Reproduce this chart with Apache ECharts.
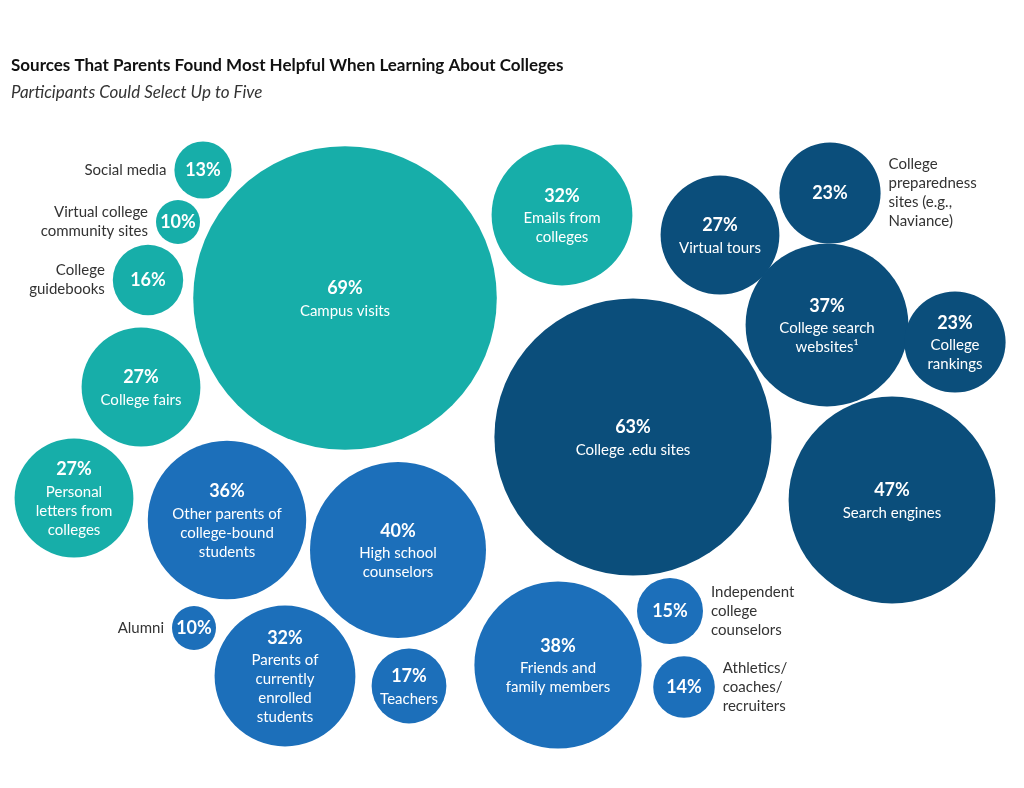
<!DOCTYPE html>
<html><head><meta charset="utf-8">
<script src="https://cdn.jsdelivr.net/npm/echarts@6/dist/echarts.min.js"></script>
<style>html,body{margin:0;padding:0;background:#fff}#chart{width:1024px;height:788px}</style>
</head><body><div id="chart"></div>
<script>
// source names (inside text), outside labels, values, group
const names = ["", "", "", "College fairs", "Personal\nletters from\ncolleges", "Campus visits", "Emails from\ncolleges",
  "Virtual tours", "", "College search\nwebsites¹", "College\nrankings", "College .edu sites", "Search engines",
  "Other parents of\ncollege-bound\nstudents", "High school\ncounselors", "", "Parents of\ncurrently\nenrolled\nstudents",
  "Teachers", "Friends and\nfamily members", "", ""];
const outside = ["Social media", "Virtual college\ncommunity sites", "College\nguidebooks", "", "", "", "",
  "", "College\npreparedness\nsites (e.g.,\nNaviance)", "", "", "", "",
  "", "", "Alumni", "", "", "", "Independent\ncollege\ncounselors", "Athletics/\ncoaches/\nrecruiters"];
const outsideSide = ["left", "left", "left", "", "", "", "", "", "right", "", "", "", "", "", "", "left", "", "", "", "right", "right"];
const values = [13, 10, 16, 27, 27, 69, 32, 27, 23, 37, 23, 63, 47, 36, 40, 10, 32, 17, 38, 15, 14];
const groups = [0, 0, 0, 0, 0, 0, 0, 1, 1, 1, 1, 1, 1, 2, 2, 2, 2, 2, 2, 2, 2];
// layout of the packed bubbles (page coordinates)
const layoutX = [203, 178, 148, 141, 74, 345, 562, 720, 830, 827, 955, 633, 892, 227, 398, 194, 285, 409, 558, 670, 684];
const layoutY = [170, 222, 280, 387, 498, 298, 215, 235, 193, 325, 342, 437, 500, 520, 550, 628, 676, 686, 665, 611, 687];
const colors = ["#17aea9", "#0b4e7b", "#1c6fba"];

const font = "Lato, 'Open Sans', sans-serif";
const scale = v => v * 4.4;
const bubbles = values.map((v, i) => ({
  value: [layoutX[i], layoutY[i], v],
  itemStyle: { color: colors[groups[i]], opacity: 1 },
  label: {
    formatter: names[i] ? "{p|" + v + "%}\n{n|" + names[i].split("\n").join("}\n{n|") + "}" : "{p|" + v + "%}"
  }
}));
const outer = values.map((v, i) => ({
  value: [layoutX[i], layoutY[i], v],
  label: { show: !!outside[i], position: outsideSide[i] || "left", formatter: outside[i], distance: 8,
    align: outsideSide[i] === "right" ? "left" : "right" }
}));

const chart = echarts.init(document.getElementById("chart"));
chart.setOption({
  animation: false,
  title: {
    text: "Sources That Parents Found Most Helpful When Learning About Colleges",
    subtext: "Participants Could Select Up to Five",
    left: 6, top: 52, itemGap: 10,
    textStyle: { fontFamily: font, fontSize: 17, fontWeight: "bold", color: "#111" },
    subtextStyle: { fontFamily: font, fontSize: 17, fontStyle: "italic", color: "#333" }
  },
  grid: { left: 0, right: 0, top: 0, bottom: 0 },
  xAxis: { type: "value", min: 0, max: 1024, show: false },
  yAxis: { type: "value", min: 0, max: 788, inverse: true, show: false },
  series: [{
    type: "scatter",
    data: bubbles,
    symbolSize: d => scale(d[2]),
    itemStyle: { opacity: 1 },
    label: {
      show: true, position: "inside", color: "#fff", fontFamily: font,
      rich: {
        p: { fontSize: 18, fontWeight: "bold", color: "#fff", fontFamily: font, lineHeight: 26 },
        n: { fontSize: 15, color: "#fff", fontFamily: font, lineHeight: 19 }
      }
    }
  }, {
    type: "scatter",
    data: outer,
    symbolSize: d => scale(d[2]),
    itemStyle: { color: "rgba(0,0,0,0)", opacity: 1 },
    silent: true,
    label: { color: "#333", fontSize: 15, fontFamily: font, lineHeight: 19 }
  }]
});
</script></body></html>
